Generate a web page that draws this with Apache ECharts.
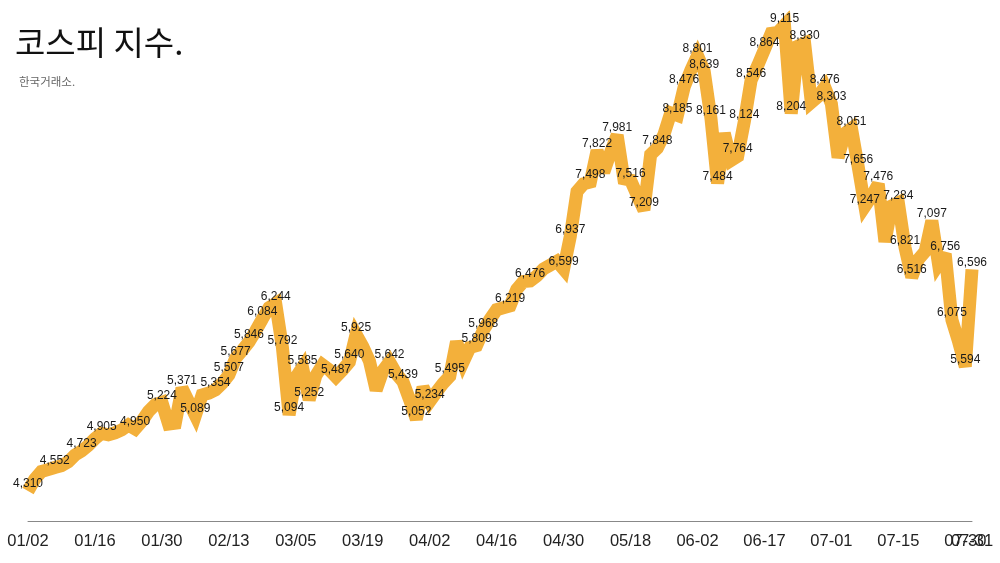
<!DOCTYPE html>
<html>
<head>
<meta charset="utf-8">
<script src="https://cdn.jsdelivr.net/npm/echarts@6/dist/echarts.min.js"></script>
<style>
html,body{margin:0;padding:0;background:#fff;}
#chart{width:1000px;height:563px;}
</style>
</head>
<body>
<div id="chart"></div>
<script>
const titleText = '코스피 지수.';
const subtitleText = '한국거래소.';

const dates = ['01/02','01/05','01/06','01/07','01/08','01/09','01/12','01/13','01/14','01/15',
'01/16','01/19','01/20','01/21','01/22','01/23','01/26','01/27','01/28','01/29',
'01/30','02/02','02/03','02/04','02/05','02/06','02/09','02/10','02/11','02/12',
'02/13','02/19','02/20','02/23','02/24','02/25','02/26','02/27','03/03','03/04',
'03/05','03/06','03/09','03/10','03/11','03/12','03/13','03/16','03/17','03/18',
'03/19','03/20','03/23','03/24','03/25','03/26','03/27','03/30','03/31','04/01',
'04/02','04/03','04/06','04/07','04/08','04/09','04/10','04/13','04/14','04/15',
'04/16','04/17','04/20','04/21','04/22','04/23','04/24','04/27','04/28','04/29',
'04/30','05/04','05/06','05/07','05/08','05/11','05/12','05/13','05/14','05/15',
'05/18','05/19','05/20','05/21','05/22','05/26','05/27','05/28','05/29','06-01',
'06-02','06-04','06-05','06-08','06-09','06-10','06-11','06-12','06-15','06-16',
'06-17','06-18','06-19','06-22','06-23','06-24','06-25','06-26','06-29','06-30',
'07-01','07-02','07-03','07-06','07-07','07-08','07-09','07-10','07-13','07-14',
'07-15','07-16','07-20','07-21','07-22','07-23','07-24','07-27','07-28','07-29',
'07-30','07-31'];

const kospi = [4310,4430,4510,4530,4552,4570,4610,4680,4723,4780,
4850,4905,4890,4910,4940,4990,4950,5030,5130,5200,
5224,5000,5010,5371,5230,5089,5300,5320,5354,5420,
5507,5677,5760,5846,5960,6084,6200,6244,5792,5094,
5480,5585,5252,5500,5610,5560,5487,5560,5640,5925,
5800,5650,5350,5550,5642,5520,5439,5250,5052,5380,
5234,5330,5420,5495,5850,5640,5790,5809,5968,6080,
6180,6200,6219,6390,6470,6476,6530,6600,6640,6680,
6599,6937,7400,7480,7498,7822,7600,7800,7981,7530,
7516,7360,7209,7780,7848,7990,8210,8185,8476,8650,
8801,8639,8161,7484,8000,7720,7764,8124,8546,8700,
8864,9030,9040,9115,8204,8900,8930,8320,8380,8476,
8303,7750,8000,8051,7656,7247,7350,7476,6880,7250,
7284,6821,6516,6700,6780,7097,6650,6756,6075,5850,
5594,6596];

// indices of points that carry a value label
const labeledIdx = [0,4,8,11,16,20,23,25,28,30,31,33,35,37,38,39,41,42,46,48,49,54,56,58,60,63,
67,68,72,75,80,81,84,85,88,90,92,94,97,98,100,101,102,103,106,107,108,110,113,114,116,119,120,
123,124,125,127,130,131,132,135,137,138,140,141];

const labelSet = new Set(labeledIdx);
const lastIdx = dates.length - 1;
const seriesData = kospi.map((v, i) => ({
  value: v,
  label: { show: labelSet.has(i) }
}));

const axisLabelBase = {
  margin: 12,
  fontSize: 16.5,
  fontFamily: '"Liberation Sans", Arial, sans-serif',
  color: '#222222'
};

const chart = echarts.init(document.getElementById('chart'), null, {renderer: 'canvas'});
chart.setOption({
  animation: false,
  backgroundColor: '#ffffff',
  title: [{
    text: titleText,
    left: 10,
    top: 21,
    textStyle: {
      fontFamily: '"Noto Sans CJK KR", sans-serif',
      fontSize: 33,
      fontWeight: 'normal',
      color: '#111111'
    }
  }, {
    text: subtitleText,
    left: 14,
    top: 71,
    textStyle: {
      fontFamily: '"Noto Sans CJK KR", sans-serif',
      fontSize: 11.5,
      fontWeight: 'normal',
      color: '#666666'
    }
  }],
  grid: { left: 28, right: 28, top: 17, bottom: 42, containLabel: false },
  xAxis: [{
    type: 'category',
    data: dates,
    boundaryGap: false,
    axisLine: { show: true, lineStyle: { color: '#888888', width: 1 } },
    axisTick: { show: false },
    splitLine: { show: false },
    axisLabel: Object.assign({ interval: (i) => i % 10 === 0 }, axisLabelBase)
  }, {
    type: 'category',
    data: dates,
    position: 'bottom',
    boundaryGap: false,
    axisLine: { show: false },
    axisTick: { show: false },
    splitLine: { show: false },
    axisLabel: Object.assign({ interval: (i) => i === lastIdx }, axisLabelBase)
  }],
  yAxis: {
    type: 'value',
    min: 4000,
    max: 9200,
    show: false,
    splitLine: { show: false }
  },
  series: [{
    type: 'line',
    data: seriesData,
    showSymbol: true,
    showAllSymbol: true,
    symbol: 'circle',
    symbolSize: 2,
    itemStyle: { color: 'rgba(0,0,0,0)', borderWidth: 0 },
    lineStyle: { color: '#F3B03B', width: 13, join: 'miter', miterLimit: 3 },
    label: {
      position: 'top',
      distance: 0,
      fontSize: 12,
      fontFamily: '"Liberation Sans", Arial, sans-serif',
      color: '#1a1a1a',
      formatter: p => p.value.toLocaleString('en-US')
    },
    emphasis: { disabled: true }
  }]
});
</script>
</body>
</html>
